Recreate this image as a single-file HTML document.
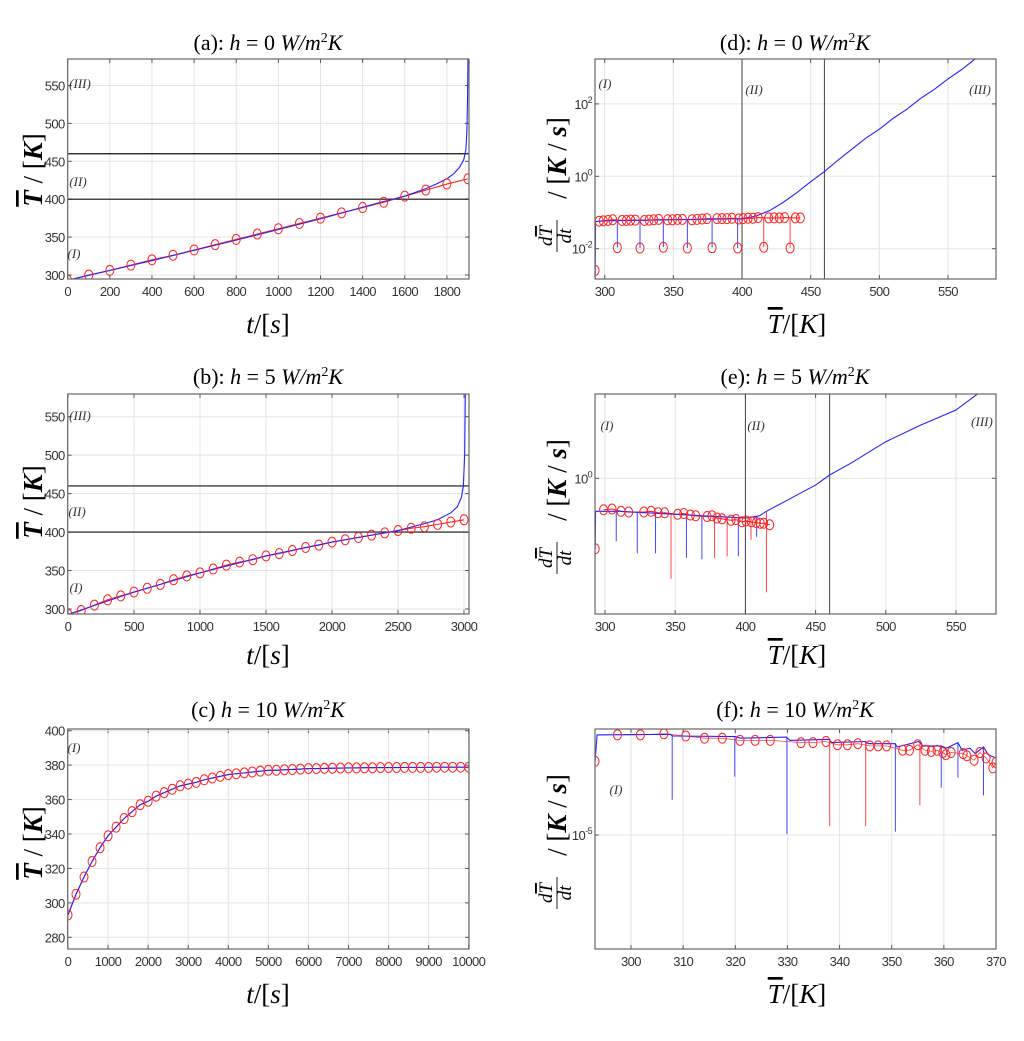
<!DOCTYPE html>
<html><head><meta charset="utf-8"><style>
html,body{margin:0;padding:0;background:#fff;}
svg text{font-family:"Liberation Sans",sans-serif;}
.tk{font-size:13px;fill:#333;letter-spacing:-0.6px;}
.ser{font-family:"Liberation Serif",serif !important;}
</style></head><body>
<svg id="fig" width="1024" height="1036" viewBox="0 0 1024 1036" xmlns="http://www.w3.org/2000/svg"></svg>
<script>
// ---------- Panel (a) data ----------
const aMarkT = [0,100,200,300,400,500,600,700,800,900,1000,1100,1200,1300,1400,1500,1600,1700,1800,1900];
const aMarkV = [293,300,306,313,320,326,333,340,347,354,361,368,375,382,389,396,404,412,420,427];
const aLineT = [0,400,800,1200,1500,1600,1700,1750,1800,1830,1860,1880,1890,1895,1898,1900];
const aLineV = [293,319,346,374,397,404,414,420,427,433,442,452,465,490,530,585];
// ---------- Panel (b) data ----------
const bMarkT = [0,100,200,300,400,500,600,700,800,900,1000,1100,1200,1300,1400,1500,1600,1700,1800,1900,2000,2100,2200,2300,2400,2500,2600,2700,2800,2900,3000];
const bMarkV = [293,298,305,312,317,322,327,332,338,343,347,352,357,361,364,369,372,376,380,383,387,390,393,396,399,402,405,407,410,413,416];
const bLineT = [0,500,1000,1500,2000,2500,2700,2800,2900,2950,2980,2995,3005,3010];
const bLineV = [293,322,347,369,387,402,411,416,425,433,445,460,500,580];
// ---------- Panel (c) data ----------
const cMarkT = [0,200,400,600,800,1000,1200,1400,1600,1800,2000,2200,2400,2600,2800,3000,3200,3400,3600,3800,4000,4200,4400,4600,4800,5000,5200,5400,5600,5800,6000,6200,6400,6600,6800,7000,7200,7400,7600,7800,8000,8200,8400,8600,8800,9000,9200,9400,9600,9800,10000];
const cMarkV = [293,305,315,324,332,339,344,349,353,357,359,362,364,366,368,369,370,371.5,372.5,373.5,374.5,375,375.5,376,376.5,377,377,377.3,377.5,377.7,378,378,378.1,378.2,378.3,378.4,378.4,378.5,378.5,378.6,378.6,378.6,378.7,378.7,378.7,378.7,378.8,378.8,378.8,378.8,378.8];
// ---------- Panel (d) data (log10 of rate) ----------
const dLineT = [293,293.3,300,350,400,410,420,430,440,450,460,470,480,490,500,510,520,530,540,550,560,570,575];
const dLineLog = [-3,-1.25,-1.23,-1.2,-1.17,-1.1,-0.95,-0.72,-0.45,-0.15,0.13,0.45,0.75,1.05,1.3,1.6,1.85,2.15,2.4,2.69,2.95,3.25,3.4];
const dMarkT = [296,299,302.4,305.8,312.6,315.8,318.9,322.3,328.9,332.3,335.7,339.3,345.9,349.3,353,356.6,363.6,367.2,370.9,374.5,381.8,385.4,389,392.7,397.6,400.7,404.4,408,411.7,419.4,423.3,427.2,431,438.8,442.5];
const dMarkLog = [-1.24,-1.23,-1.22,-1.2,-1.22,-1.22,-1.21,-1.21,-1.22,-1.21,-1.2,-1.19,-1.2,-1.2,-1.19,-1.19,-1.2,-1.19,-1.18,-1.17,-1.17,-1.17,-1.17,-1.16,-1.18,-1.17,-1.16,-1.16,-1.14,-1.15,-1.15,-1.15,-1.14,-1.15,-1.15];
const dDropT = [293,309.2,325.7,342.7,360.2,378.2,396.8,415.8,435];
const dDropLog = [-2.6,-1.97,-1.98,-1.96,-1.98,-1.97,-1.98,-1.96,-1.98];
const dDropColor = ['red','blue','blue','blue','blue','blue','blue','red','red'];
// ---------- Panel (e) data ----------
const eLineT = [293,293.3,310,330,350,370,390,400,410,415,430,450,460,475,500,525,550,565,575];
const eLineLog = [-0.47,-0.22,-0.22,-0.23,-0.24,-0.25,-0.26,-0.265,-0.25,-0.22,-0.145,-0.045,0.022,0.1,0.244,0.355,0.455,0.56,0.62];
const eMarkT = [299,305,311.4,316.9,327.6,332.8,337.8,342.5,351.8,356.1,360.8,364.6,372.7,376.2,379.8,383.3,389.8,393.3,397.6,400.4,404.3,407.8,410.6,413,417.3];
const eMarkLog = [-0.21,-0.205,-0.22,-0.225,-0.225,-0.22,-0.23,-0.23,-0.24,-0.235,-0.245,-0.25,-0.255,-0.25,-0.265,-0.27,-0.28,-0.275,-0.29,-0.285,-0.29,-0.295,-0.3,-0.3,-0.31];
const eDropT = [308,323,336,347,358,369,378,387,395,404,408,415];
const eDropLog = [-0.42,-0.5,-0.5,-0.67,-0.53,-0.54,-0.53,-0.52,-0.52,-0.41,-0.39,-0.76];
const eDropColor = ['blue','blue','blue','red','blue','blue','red','red','blue','red','blue','red'];
// ---------- Panel (f) data ----------
const fLineT = [293.1,293.5,307.5,308,320,321,329.8,330.5,338,338.5,345,345.5,350.7,351,355.2,356,359.5,360.5,362.7,363.5,365,366,367.6,368.5,370];
const fLineLog = [-4.33,-4.09,-4.085,-4.1,-4.105,-4.12,-4.11,-4.14,-4.13,-4.16,-4.15,-4.17,-4.17,-4.2,-4.15,-4.19,-4.19,-4.21,-4.16,-4.23,-4.21,-4.26,-4.2,-4.27,-4.3];
const fMarkT = [297.4,301.8,306.3,310.5,314.1,317.5,320.9,323.8,326.7,332.6,334.9,337.4,339.6,341.5,343.5,345.8,347.4,349,352.1,353.4,355,356.4,357.6,358.7,359.8,360.4,361.4,363.7,364.4,365.8,366.9,368.1,369.4,370];
const fMarkLog = [-4.09,-4.09,-4.08,-4.1,-4.12,-4.12,-4.14,-4.14,-4.14,-4.16,-4.16,-4.15,-4.18,-4.18,-4.17,-4.19,-4.19,-4.19,-4.23,-4.23,-4.18,-4.23,-4.24,-4.23,-4.25,-4.27,-4.25,-4.26,-4.28,-4.32,-4.25,-4.3,-4.39,-4.34];
const fDropT = [307.9,319.9,329.9,338.1,345,350.7,355.4,359.5,362.7,367.6];
const fDropLog = [-4.68,-4.47,-4.99,-4.92,-4.92,-4.97,-4.73,-4.57,-4.48,-4.64];
const fDropColor = ['blue','blue','blue','red','red','blue','red','blue','blue','blue'];
// ---------- Ticks ----------
const aXTicks = [0,200,400,600,800,1000,1200,1400,1600,1800];
const abYTicks = [300,350,400,450,500,550];
const bXTicks = [0,500,1000,1500,2000,2500,3000];
const cXTicks = [0,1000,2000,3000,4000,5000,6000,7000,8000,9000,10000];
const cYTicks = [280,300,320,340,360,380,400];
const deXTicks = [300,350,400,450,500,550];
const dYTicks = [-2,0,2];
const eYTicks = [0];
const fXTicks = [300,310,320,330,340,350,360,370];
const fYTicks = [-5];
const regionLines = [400,460];

const NS='http://www.w3.org/2000/svg';
const svg=document.getElementById('fig');
function el(tag,attrs,parent){const e=document.createElementNS(NS,tag);for(const k in attrs)e.setAttribute(k,attrs[k]);(parent||svg).appendChild(e);return e;}
function lin(d0,d1,p0,p1){return v=>p0+(v-d0)/(d1-d0)*(p1-p0);}

function panel(id,box,sx,sy,xt,yt,xfmt,yfmt){
  const g=el('g',{});
  
  
  const cp=el('clipPath',{id:'clip-'+id},g);
  el('rect',{x:box.x0,y:box.y0,width:box.x1-box.x0,height:box.y1-box.y0},cp);
  xt.forEach(v=>{const x=sx(v);
    const l=el('line',{x1:x,x2:x,y1:box.y0,y2:box.y1,stroke:'#e3e3e3','stroke-width':1},g);
    
    el('line',{x1:x,x2:x,y1:box.y1,y2:box.y1-4,stroke:'#555'},g);
    el('line',{x1:x,x2:x,y1:box.y0,y2:box.y0+4,stroke:'#555'},g);
    const t=el('text',{x:x,y:box.y1+17,'text-anchor':'middle',class:'tk'},g);t.textContent=xfmt(v);
    
  });
  yt.forEach(v=>{const y=sy(v);
    const l=el('line',{x1:box.x0,x2:box.x1,y1:y,y2:y,stroke:'#e3e3e3','stroke-width':1},g);
    
    el('line',{x1:box.x0,x2:box.x0+4,y1:y,y2:y,stroke:'#555'},g);
    el('line',{x1:box.x1,x2:box.x1-4,y1:y,y2:y,stroke:'#555'},g);
    const t=el('text',{x:box.x0-3,y:y+5,'text-anchor':'end',class:'tk'},g);
    yfmt(t,v);
    
  });
  const pg=el('g',{'clip-path':'url(#clip-'+id+')'},g);
  const fr=el('rect',{x:box.x0,y:box.y0,width:box.x1-box.x0,height:box.y1-box.y0,fill:'none',stroke:'#666','stroke-width':1.2},g);
  
  return pg;
}
function poly(g,xs,ys,sx,sy,color,name,w){
  const p=el('polyline',{points:xs.map((x,i)=>sx(x)+','+sy(ys[i])).join(' '),fill:'none',stroke:color,'stroke-width':w||1.1},g);
  return p;
}
function marks(g,xs,ys,sx,sy,name){
  xs.forEach((x,i)=>{const m=el('ellipse',{cx:sx(x),cy:sy(ys[i]),rx:4,ry:5,fill:'none',stroke:'#f22','stroke-width':1},g);
    });
}
function drops(g,xs,ys,cols,baseFn,sx,sy,name){
  xs.forEach((x,i)=>{const s=el('line',{x1:sx(x),x2:sx(x),y1:sy(baseFn(x)),y2:sy(ys[i]),stroke:cols[i]=='red'?'#f44':'#44f','stroke-width':1},g);
    });
}
function interp(xs,ys){return v=>{for(let i=1;i<xs.length;i++){if(v<=xs[i]){const f=(v-xs[i-1])/(xs[i]-xs[i-1]);return ys[i-1]+f*(ys[i]-ys[i-1]);}}return ys[ys.length-1];};}
const plain=(t,v)=>{t.textContent=v;};
const pow=(t,v)=>{t.textContent='10';const s=el('tspan',{dy:-6,'font-size':'9px'},t);s.textContent=String(v);};

// Panel a
{const box={x0:67.7,x1:469,y0:59,y1:279};const sx=lin(0,1905,67.7,469),sy=lin(294.7,585,279,59);
 const g=panel('a',box,sx,sy,aXTicks,abYTicks,String,plain);
 regionLines.forEach(v=>{const l=el('line',{x1:box.x0,x2:box.x1,y1:sy(v),y2:sy(v),stroke:'#111','stroke-width':1.2},g);});
 poly(g,aMarkT,aMarkV,sx,sy,'#f22','model-line-red');
 poly(g,aLineT,aLineV,sx,sy,'#22f','simulation-line-blue');
 marks(g,aMarkT,aMarkV,sx,sy,'model-marker');}
// Panel b
{const box={x0:67.7,x1:469,y0:394,y1:614};const sx=lin(0,3000,68,464),sy=lin(300,550,609,416.7);
 const g=panel('b',box,sx,sy,bXTicks,abYTicks,String,plain);
 regionLines.forEach(v=>{const l=el('line',{x1:box.x0,x2:box.x1,y1:sy(v),y2:sy(v),stroke:'#111','stroke-width':1.2},g);});
 poly(g,bMarkT,bMarkV,sx,sy,'#f22','model-line-red');
 poly(g,bLineT,bLineV,sx,sy,'#22f','simulation-line-blue');
 marks(g,bMarkT,bMarkV,sx,sy,'model-marker');}
// Panel c
{const box={x0:67.7,x1:469,y0:729,y1:949};const sx=lin(0,10000,68,468.7),sy=lin(280,400,937.3,730.7);
 const g=panel('c',box,sx,sy,cXTicks,cYTicks,String,plain);
 poly(g,cMarkT,cMarkV,sx,sy,'#f22','model-line-red');
 poly(g,cMarkT,cMarkV,sx,sy,'#22f','simulation-line-blue');
 marks(g,cMarkT,cMarkV,sx,sy,'model-marker');}
// Panel d
{const box={x0:595,x1:996,y0:59,y1:279};const sx=lin(300,550,604.7,948),sy=v=>176.3-v*36.2;
 const g=panel('d',box,sx,sy,deXTicks,dYTicks,String,pow);
 regionLines.forEach(v=>{const l=el('line',{x1:sx(v),x2:sx(v),y1:box.y0,y2:box.y1,stroke:'#444','stroke-width':1},g);});
 poly(g,dMarkT,dMarkLog,sx,sy,'#f22','model-line-red');
 drops(g,dDropT,dDropLog,dDropColor,interp(dMarkT,dMarkLog),sx,sy,'rate-drop-stem');
 poly(g,dLineT,dLineLog,sx,sy,'#22f','simulation-line-blue');
 marks(g,dMarkT,dMarkLog,sx,sy,'model-marker');
 marks(g,dDropT,dDropLog,sx,sy,'model-drop-marker');}
// Panel e
{const box={x0:595,x1:996,y0:394,y1:614};const sx=lin(300,550,605,956),sy=v=>478.3-v*150;
 const g=panel('e',box,sx,sy,deXTicks,eYTicks,String,pow);
 regionLines.forEach(v=>{const l=el('line',{x1:sx(v),x2:sx(v),y1:box.y0,y2:box.y1,stroke:'#444','stroke-width':1},g);});
 drops(g,eDropT,eDropLog,eDropColor,interp(eLineT,eLineLog),sx,sy,'rate-drop-stem');
 poly(g,eMarkT,eMarkLog,sx,sy,'#f22','model-line-red');
 poly(g,eLineT,eLineLog,sx,sy,'#22f','simulation-line-blue');
 marks(g,eMarkT,eMarkLog,sx,sy,'model-marker');
 marks(g,[293],[eLineLog[0]],sx,sy,'model-marker');}
// Panel f
{const box={x0:595,x1:996,y0:729,y1:949};const sx=lin(300,370,631,996),sy=v=>835-(v+5)*110;
 const g=panel('f',box,sx,sy,fXTicks,fYTicks,String,pow);
 drops(g,fDropT,fDropLog,fDropColor,interp(fLineT,fLineLog),sx,sy,'rate-drop-stem');
 poly(g,fMarkT,fMarkLog,sx,sy,'#f44','model-line-red',0.8);
 poly(g,fLineT,fLineLog,sx,sy,'#22f','simulation-line-blue');
 marks(g,fMarkT,fMarkLog,sx,sy,'model-marker');
 marks(g,[293.1],[fLineLog[0]],sx,sy,'model-marker');}
</script>
<script>
// Titles, axis labels, region labels (static text)
(function(){
const svg=document.getElementById('fig');
const NS='http://www.w3.org/2000/svg';
function T(x,y,html,name,extra,parent){const g=document.createElementNS(NS,'g');
 g.innerHTML='<text x="'+x+'" y="'+y+'" text-anchor="middle" class="ser" '+(extra||'')+'>'+html+'</text>';
 const t=g.firstChild;(parent||svg).appendChild(t);return t;}
const it=s=>'<tspan font-style="italic">'+s+'</tspan>';
function title(x,y,lab,h){return T(x,y,lab+' '+it('h')+' = '+h+' '+it('W/m')+'<tspan dy="-8" font-size="14">2</tspan><tspan dy="8">'+it('K')+'</tspan>','panel-title','font-size="22"');}
title(268,50,'(a):','0');title(795,50,'(d):','0');
title(268,384,'(b):','5');title(795,384,'(e):','5');
title(268,717,'(c)','10');title(795,717,'(f):','10');
[[333],[664],[1003]].forEach(([y])=>{
  T(268,y,'<tspan font-style="italic">t</tspan>/[<tspan font-style="italic">s</tspan>]','x-axis-title','font-size="27"');
  T(797,y,'<tspan font-style="italic" text-decoration="overline">T</tspan>/[<tspan font-style="italic">K</tspan>]','x-axis-title','font-size="27"');
});
[[170],[502],[843]].forEach(([cy])=>{
  T(42,cy,'<tspan font-weight="bold" font-style="italic" text-decoration="overline">T</tspan> / [<tspan font-weight="bold" font-style="italic">K</tspan>]','y-axis-title','font-size="27" transform="rotate(-90 42 '+cy+')"');
});
[[178],[500],[835]].forEach(([cy])=>{
  const g=document.createElementNS(NS,'g');
  g.setAttribute('transform','translate(556 '+cy+') rotate(-90)');
  
  svg.appendChild(g);
  T(-58,-4,'<tspan font-style="italic">d</tspan><tspan font-style="italic" text-decoration="overline">T</tspan>','y-axis-title-numerator','font-size="19"',g);
  T(-58,15,'<tspan font-style="italic">dt</tspan>','y-axis-title-denominator','font-size="19"',g);
  const l=document.createElementNS(NS,'line');
  l.setAttribute('x1',-74);l.setAttribute('x2',-42);l.setAttribute('y1',1);l.setAttribute('y2',1);l.setAttribute('stroke','#222');
  g.appendChild(l);
  T(20,10,'/ [<tspan font-weight="bold" font-style="italic">K</tspan> / <tspan font-weight="bold" font-style="italic">s</tspan>]','y-axis-title-units','font-size="27"',g);
});
const R=[[80,88,'(III)'],[78,186,'(II)'],[74,258,'(I)'],[80,420,'(III)'],[77,516,'(II)'],[76,592,'(I)'],[74,752,'(I)'],
 [605,88,'(I)'],[754,94,'(II)'],[980,94,'(III)'],[607,430,'(I)'],[756,430,'(II)'],[982,426,'(III)'],[616,794,'(I)']];
R.forEach(([x,y,s])=>T(x,y,'<tspan font-style="italic">'+s+'</tspan>','region-label','font-size="13" fill="#333"'));
})();
</script>
</body></html>
